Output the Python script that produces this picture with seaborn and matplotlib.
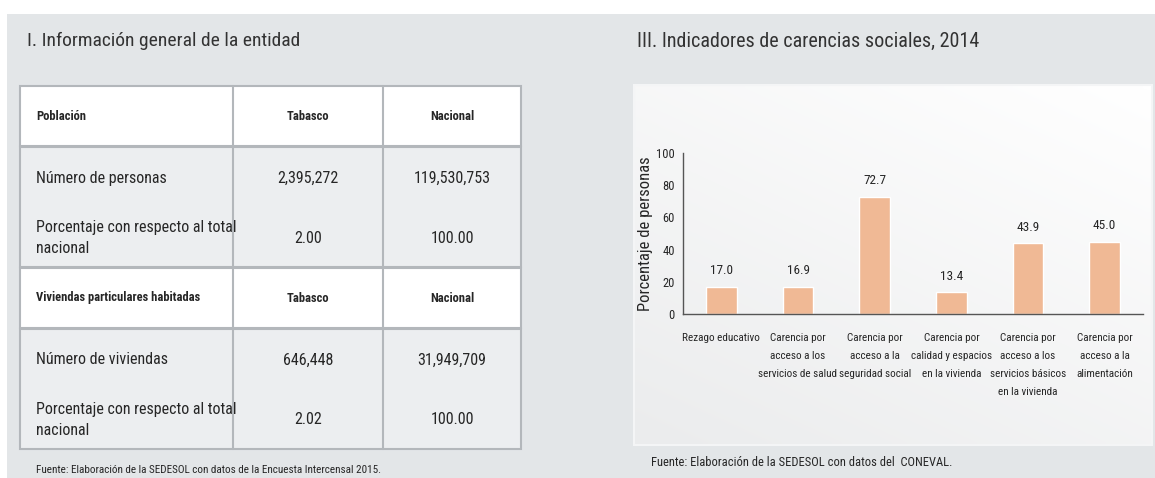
import matplotlib.pyplot as plt
import numpy as np
import seaborn as sns
from matplotlib import font_manager
from matplotlib.colors import LinearSegmentedColormap
from matplotlib.patches import Rectangle

# Datos de la tabla
secciones = ["Población", "Viviendas particulares habitadas"]
columnas = ["Tabasco", "Nacional"]
etiquetas_filas = [
    ["Número de personas", "Porcentaje con respecto al total\nnacional"],
    ["Número de viviendas", "Porcentaje con respecto al total\nnacional"],
]
valores_tabasco = [["2,395,272", "2.00"], ["646,448", "2.02"]]
valores_nacional = [["119,530,753", "100.00"], ["31,949,709", "100.00"]]

# Datos de la gráfica
categorias = [
    "Rezago educativo",
    "Carencia por\nacceso a los\nservicios de salud",
    "Carencia por\nacceso a la\nseguridad social",
    "Carencia por\ncalidad y espacios\nen la vivienda",
    "Carencia por\nacceso a los\nservicios básicos\nen la vivienda",
    "Carencia por\nacceso a la\nalimentación",
]
porcentajes = [17.0, 16.9, 72.7, 13.4, 43.9, 45.0]

W, H = 1155, 478
BAR_COLOR = "#f0b995"
GRIS_FONDO = "#e3e6e8"
GRIS_LINEA = "#b3b7bb"
GRIS_FILA = "#eceef0"
TXT = "#262626"


def fuente_estrecha(bold=False):
    """Busca una fuente estrecha instalada (Narrow / Condensed)."""
    archivos = font_manager.findSystemFonts()
    prefs = ["LiberationSansNarrow", "RobotoCondensed", "OpenSansCondensed",
             "DejaVuSansCondensed", "NotoSansCondensed", "Condensed", "Narrow"]
    for p in prefs:
        for f in sorted(archivos):
            nombre = f.split("/")[-1].replace("-", "").replace("_", "")
            if p.lower() in nombre.lower():
                es_bold = "bold" in nombre.lower()
                if es_bold == bold and "italic" not in nombre.lower() \
                        and "oblique" not in nombre.lower():
                    return font_manager.FontProperties(fname=f)
    return font_manager.FontProperties(family="Liberation Sans",
                                       weight="bold" if bold else "normal")


sns.set_theme(style="white")
plt.rcParams["font.family"] = ["Liberation Sans", "DejaVu Sans"]

FN = fuente_estrecha(False)
FB = fuente_estrecha(True)


def fp(base, size):
    p = base.copy()
    p.set_size(size)
    return p


fig = plt.figure(figsize=(W / 100, H / 100), dpi=100)
fig.patch.set_facecolor("white")

# Capa de fondo en coordenadas de pixel
bg = fig.add_axes([0, 0, 1, 1])
bg.set_xlim(0, W)
bg.set_ylim(H, 0)
bg.axis("off")

bg.add_patch(Rectangle((7, 14), W - 7, H - 14, facecolor=GRIS_FONDO, edgecolor="none"))

# --- Panel izquierdo: tabla ---
bg.text(27, 41, "I. Información general de la entidad", fontproperties=fp(FN, 14),
        color="#333333", va="center", ha="left")

x0, x1, x2, x3 = 20, 233, 383, 521
col_centros = [(x1 + x2) / 2, (x2 + x3) / 2]
tops = [86, 268]
for s, top in enumerate(tops):
    bg.add_patch(Rectangle((x0, top), x3 - x0, 60, facecolor="white",
                           edgecolor=GRIS_LINEA, lw=1.5))
    bg.add_patch(Rectangle((x0, top + 61), x3 - x0, 120, facecolor=GRIS_FILA,
                           edgecolor=GRIS_LINEA, lw=1.5))
    for xv in (x1, x2):
        bg.plot([xv, xv], [top, top + 181], color=GRIS_LINEA, lw=1.5)

    bg.text(36, top + 30, secciones[s], fontproperties=fp(FB, 9),
            color=TXT, va="center", ha="left")
    for c, nombre in enumerate(columnas):
        bg.text(col_centros[c], top + 30, nombre, fontproperties=fp(FB, 9),
                color=TXT, va="center", ha="center")

    for r, dy in enumerate([92, 152]):
        bg.text(36, top + dy, etiquetas_filas[s][r], fontproperties=fp(FN, 11.5),
                color=TXT, va="center", ha="left", linespacing=1.5)
        bg.text(col_centros[0], top + dy, valores_tabasco[s][r],
                fontproperties=fp(FN, 11.5), color=TXT, va="center", ha="center")
        bg.text(col_centros[1], top + dy, valores_nacional[s][r],
                fontproperties=fp(FN, 11.5), color=TXT, va="center", ha="center")

bg.text(36, 470, "Fuente: Elaboración de la SEDESOL con datos de la Encuesta Intercensal 2015.",
        fontproperties=fp(FN, 8), color=TXT, va="center", ha="left")

# --- Panel derecho: gráfica ---
bg.text(637, 41, "III. Indicadores de carencias sociales, 2014", fontproperties=fp(FN, 14.5),
        color="#333333", va="center", ha="left")

# recuadro con degradado suave (blanco arriba-derecha, gris abajo-izquierda)
gx, gy = np.meshgrid(np.linspace(0, 1, 64), np.linspace(0, 1, 64))
grad = 0.6 * gy + 0.4 * (1 - gx)
cmap_panel = LinearSegmentedColormap.from_list("panel", ["#ffffff", "#ebeced"])
bg.imshow(grad, cmap=cmap_panel, extent=(634, W - 3, 445, 85), aspect="auto",
          zorder=1, interpolation="bilinear")
bg.add_patch(Rectangle((634, 85), W - 634 - 3, 360, facecolor="none",
                       edgecolor="#f4f5f6", lw=1.5, zorder=2))
bg.set_xlim(0, W)
bg.set_ylim(H, 0)

bg.text(651, 463, "Fuente: Elaboración de la SEDESOL con datos del  CONEVAL.",
        fontproperties=fp(FN, 9), color=TXT, va="center", ha="left")

ax_l, ax_r, ax_b, ax_t = 683, 1143, 314, 153
ax = fig.add_axes([ax_l / W, 1 - ax_b / H, (ax_r - ax_l) / W, (ax_b - ax_t) / H])
ax.patch.set_alpha(0)

sns.barplot(x=categorias, y=porcentajes, color=BAR_COLOR, width=0.4,
            saturation=1, ax=ax)
ax.set_ylim(0, 100)
ax.set_xlim(-0.5, len(categorias) - 0.5)
ax.set_yticks(range(0, 101, 20))
ax.set_yticklabels([str(t) for t in range(0, 101, 20)], fontproperties=fp(FN, 9),
                   color=TXT)
ax.set_xticks(range(len(categorias)))
ax.set_xticklabels(categorias, fontproperties=fp(FN, 8), color=TXT,
                   linespacing=2.0, va="top")
ax.set_xticks([i - 0.5 for i in range(len(categorias) + 1)], minor=True)
ax.tick_params(axis="x", which="major", length=0, pad=14)
ax.tick_params(axis="x", which="minor", length=5, width=1, color="#555555",
               direction="out")
ax.tick_params(axis="y", length=0, pad=6)
ax.set_ylabel("Porcentaje de personas", fontproperties=fp(FN, 12), color=TXT,
              labelpad=2)

for s in ["top", "right"]:
    ax.spines[s].set_visible(False)
for s in ["left", "bottom"]:
    ax.spines[s].set_color("#555555")
    ax.spines[s].set_linewidth(1)

for i, v in enumerate(porcentajes):
    ax.text(i, v + 6, f"{v:.1f}", ha="center", va="bottom",
            fontproperties=fp(FN, 9.5), color=TXT)

fig.savefig("out.png", dpi=100, facecolor=fig.get_facecolor())
